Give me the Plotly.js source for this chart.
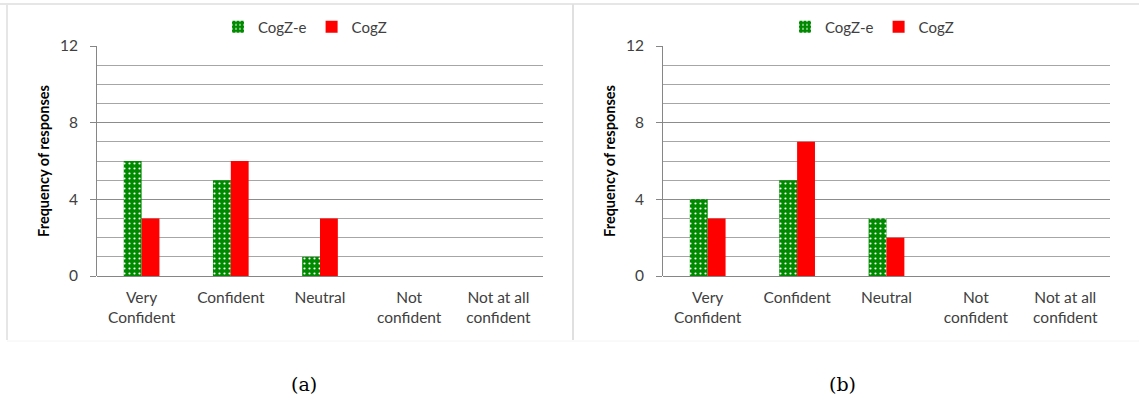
<!DOCTYPE html>
<html>
<head>
<meta charset="utf-8">
<script src="https://cdn.plot.ly/plotly-3.0.1.min.js"></script>
<style>html,body{margin:0;padding:0;background:#fff;}</style>
</head>
<body>
<div id="chart" style="width:1139px;height:404px;"></div>
<script>
var categories = ["Very<br>Confident", "Confident", "Neutral", "Not<br>confident", "Not at all<br>confident"];
var cogzE_a = [6, 5, 1, 0, 0];
var cogz_a  = [3, 6, 3, 0, 0];
var cogzE_b = [4, 5, 3, 0, 0];
var cogz_b  = [3, 7, 2, 0, 0];
var seriesNames = ["CogZ-e", "CogZ"];
var yTicks = [0, 4, 8, 12];
var panelLabels = ["(a)", "(b)"];

var green = '#008a00';
var red = '#ff0000';
var font = 'Lato, "Open Sans", sans-serif';

function greenTrace(y, xa, ya, lg) {
  return {type:'bar', x:categories, y:y, name:seriesNames[0], xaxis:xa, yaxis:ya, legend:lg,
    marker:{color:green, line:{width:0}, pattern:{shape:'.', fgcolor:'#ffffff', bgcolor:green, size:5, solidity:0.15}}};
}
function redTrace(y, xa, ya, lg) {
  return {type:'bar', x:categories, y:y, name:seriesNames[1], xaxis:xa, yaxis:ya, legend:lg,
    marker:{color:red, line:{width:0}}};
}
var data = [
  greenTrace(cogzE_a, 'x', 'y', 'legend'),
  redTrace(cogz_a, 'x', 'y', 'legend'),
  greenTrace(cogzE_b, 'x2', 'y2', 'legend2'),
  redTrace(cogz_b, 'x2', 'y2', 'legend2')
];

var yb = 1 - 276/404, yt = 1 - 46/404;
function xax(d) {
  return {domain:d, type:'category', showline:false, ticks:'', showgrid:false, zeroline:false,
    ticklabelstandoff:10,
    tickfont:{family:font, size:15.5, color:'#404040'}, fixedrange:true};
}
function yax(anchor) {
  return {domain:[yb, yt], anchor:anchor, range:[0,12], tickvals:yTicks, ticks:'outside', ticklen:6, tickcolor:'#868686',
    ticklabelstandoff:9,
    showline:true, linecolor:'#868686', linewidth:1, showgrid:true, gridcolor:'#8c8c8c', gridwidth:1,
    zeroline:true, zerolinecolor:'#868686', zerolinewidth:1,
    minor:{dtick:1, showgrid:true, gridcolor:'#a6a6a6', gridwidth:1, ticks:''},
    tickfont:{family:font, size:15.5, color:'#404040'},
    title:{text:'<b>Frequency of responses</b>', font:{family:font, size:14.5, color:'#000'}, standoff:6}};
}
var legendCommon = {orientation:'h', yanchor:'middle', xanchor:'center', y:1-27/404,
  font:{family:font, size:15, color:'#404040'}, itemwidth:30, bgcolor:'rgba(0,0,0,0)', traceorder:'normal'};

var layout = {
  width:1139, height:404, margin:{l:0,r:0,t:0,b:0},
  paper_bgcolor:'#fff', plot_bgcolor:'rgba(0,0,0,0)',
  bargap:0.6, bargroupgap:0, barmode:'group',
  xaxis: xax([97/1139, 543/1139]),
  yaxis: yax('x'),
  xaxis2: Object.assign(xax([663/1139, 1110/1139]), {anchor:'y2'}),
  yaxis2: yax('x2'),
  legend: Object.assign({x:305/1139}, legendCommon),
  legend2: Object.assign({x:872/1139}, legendCommon),
  shapes:[
    {type:'line', xref:'paper', yref:'paper', x0:0, x1:1, y0:1-4/404, y1:1-4/404, line:{color:'#e6e6e6', width:2}},
    {type:'line', xref:'paper', yref:'paper', x0:7/1139, x1:7/1139, y0:1-4/404, y1:1-340/404, line:{color:'#e6e6e6', width:2}},
    {type:'line', xref:'paper', yref:'paper', x0:573/1139, x1:573/1139, y0:1-4/404, y1:1-340/404, line:{color:'#e0e0e0', width:2}},
    {type:'line', xref:'paper', yref:'paper', x0:7/1139, x1:1, y0:1-341/404, y1:1-341/404, line:{color:'#f4f4f4', width:1}}
  ],
  annotations:[
    {text:panelLabels[0], xref:'paper', yref:'paper', x:289/1139, y:1-384/404, yanchor:'middle', showarrow:false, font:{family:'"DejaVu Serif", "Liberation Serif", serif', size:19, color:'#000'}},
    {text:panelLabels[1], xref:'paper', yref:'paper', x:858/1139, y:1-384/404, yanchor:'middle', showarrow:false, font:{family:'"DejaVu Serif", "Liberation Serif", serif', size:19, color:'#000'}}
  ]
};
Plotly.newPlot('chart', data, layout, {displayModeBar:false, staticPlot:true});
</script>
</body>
</html>
